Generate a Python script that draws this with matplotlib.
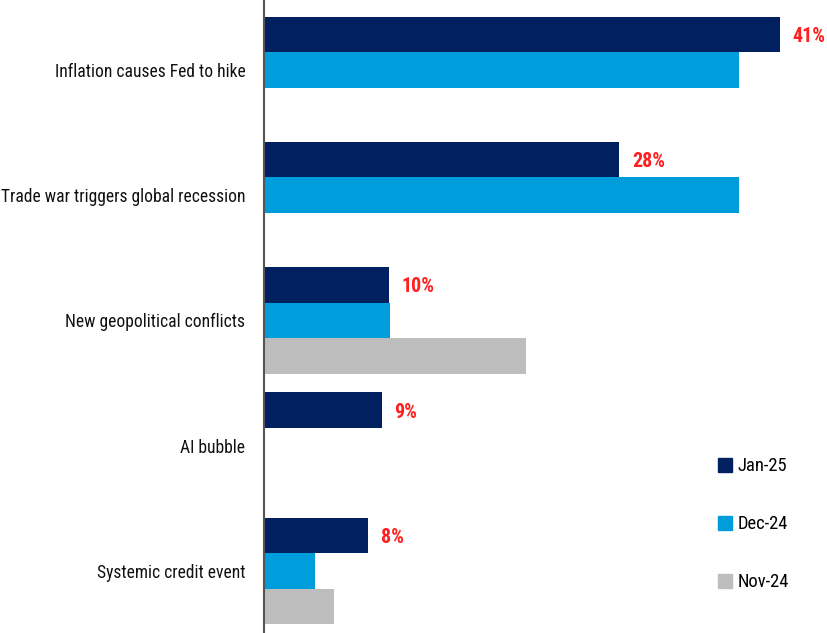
import matplotlib
matplotlib.use("Agg")
import matplotlib.pyplot as plt
from matplotlib import font_manager
from matplotlib.lines import Line2D
import numpy as np

categories = ["Inflation causes Fed to hike", "Trade war triggers global recession",
              "New geopolitical conflicts", "AI bubble", "Systemic credit event"]
series_names = ["Jan-25", "Dec-24", "Nov-24"]
jan25 = [41.0, 28.25, 9.95, 9.4, 8.3]
dec24 = [37.7, 37.7, 10.0, 0, 4.1]
nov24 = [0, 0, 20.8, 0, 5.6]
labels = ["41%", "28%", "10%", "9%", "8%"]
colors = ["#002060", "#009DDC", "#BDBDBD"]

# pick a condensed family if one is installed
names = sorted({f.name for f in font_manager.fontManager.ttflist})
cond = [n for n in names if ("Narrow" in n or "Condensed" in n)]
pref = ["Liberation Sans Narrow", "Roboto Condensed", "DejaVu Sans Condensed",
        "Open Sans Condensed", "Noto Sans Condensed"]
family = None
for p in pref:
    if p in names:
        family = p
        break
if family is None and cond:
    family = cond[0]
if family is None:
    family = "Liberation Sans" if "Liberation Sans" in names else "DejaVu Sans"
plt.rcParams['font.family'] = [family, 'DejaVu Sans']

W, H = 827, 633
fig = plt.figure(figsize=(W / 100, H / 100), dpi=100)
renderer = fig.canvas.get_renderer()


def fit_size(text, target_px, weight="normal", base=14):
    t = fig.text(0, 0, text, fontsize=base, fontweight=weight)
    w = t.get_window_extent(renderer).width
    t.remove()
    return base * target_px / w


cat_fs = min(fit_size("Trade war triggers global recession", 246), 17)
val_fs = min(fit_size("41%", 33, weight="bold"), 18)
leg_fs = min(fit_size("Dec-24", 51), 17)

ax = fig.add_axes([263.5 / W, 0, 1 - 263.5 / W, 1])

h = 0.283
y = np.arange(len(categories))
for k, vals in enumerate([jan25, dec24, nov24]):
    ax.barh(y + (k - 1) * h, vals, height=h, color=colors[k], label=series_names[k])

for i, (v, t) in enumerate(zip(jan25, labels)):
    ax.text(v + 1.0, y[i] - h + 0.015, t, color="#FF1F1F", fontweight="bold",
            fontsize=val_fs, va="center", ha="left")

ax.set_xlim(0, (W - 263.5) / 12.6)
ax.set_ylim(4.495, -0.557)
ax.set_yticks(y)
ax.set_yticklabels(categories, fontsize=cat_fs, color="#111111")
ax.tick_params(axis="y", length=0, pad=13)
ax.set_xticks([])
for s in ["top", "right", "bottom"]:
    ax.spines[s].set_visible(False)
ax.spines["left"].set_color("#555555")
ax.spines["left"].set_linewidth(1.5)

handles = [Line2D([0], [0], marker="s", color="none", markerfacecolor=c,
                  markeredgecolor=c, markersize=10) for c in colors]
ax.legend(handles, series_names, loc="lower right", bbox_to_anchor=(0.962, 0.04),
          frameon=False, fontsize=leg_fs, handlelength=0.6, handletextpad=0.4,
          labelspacing=2.15)

fig.savefig("out.png", dpi=100)
